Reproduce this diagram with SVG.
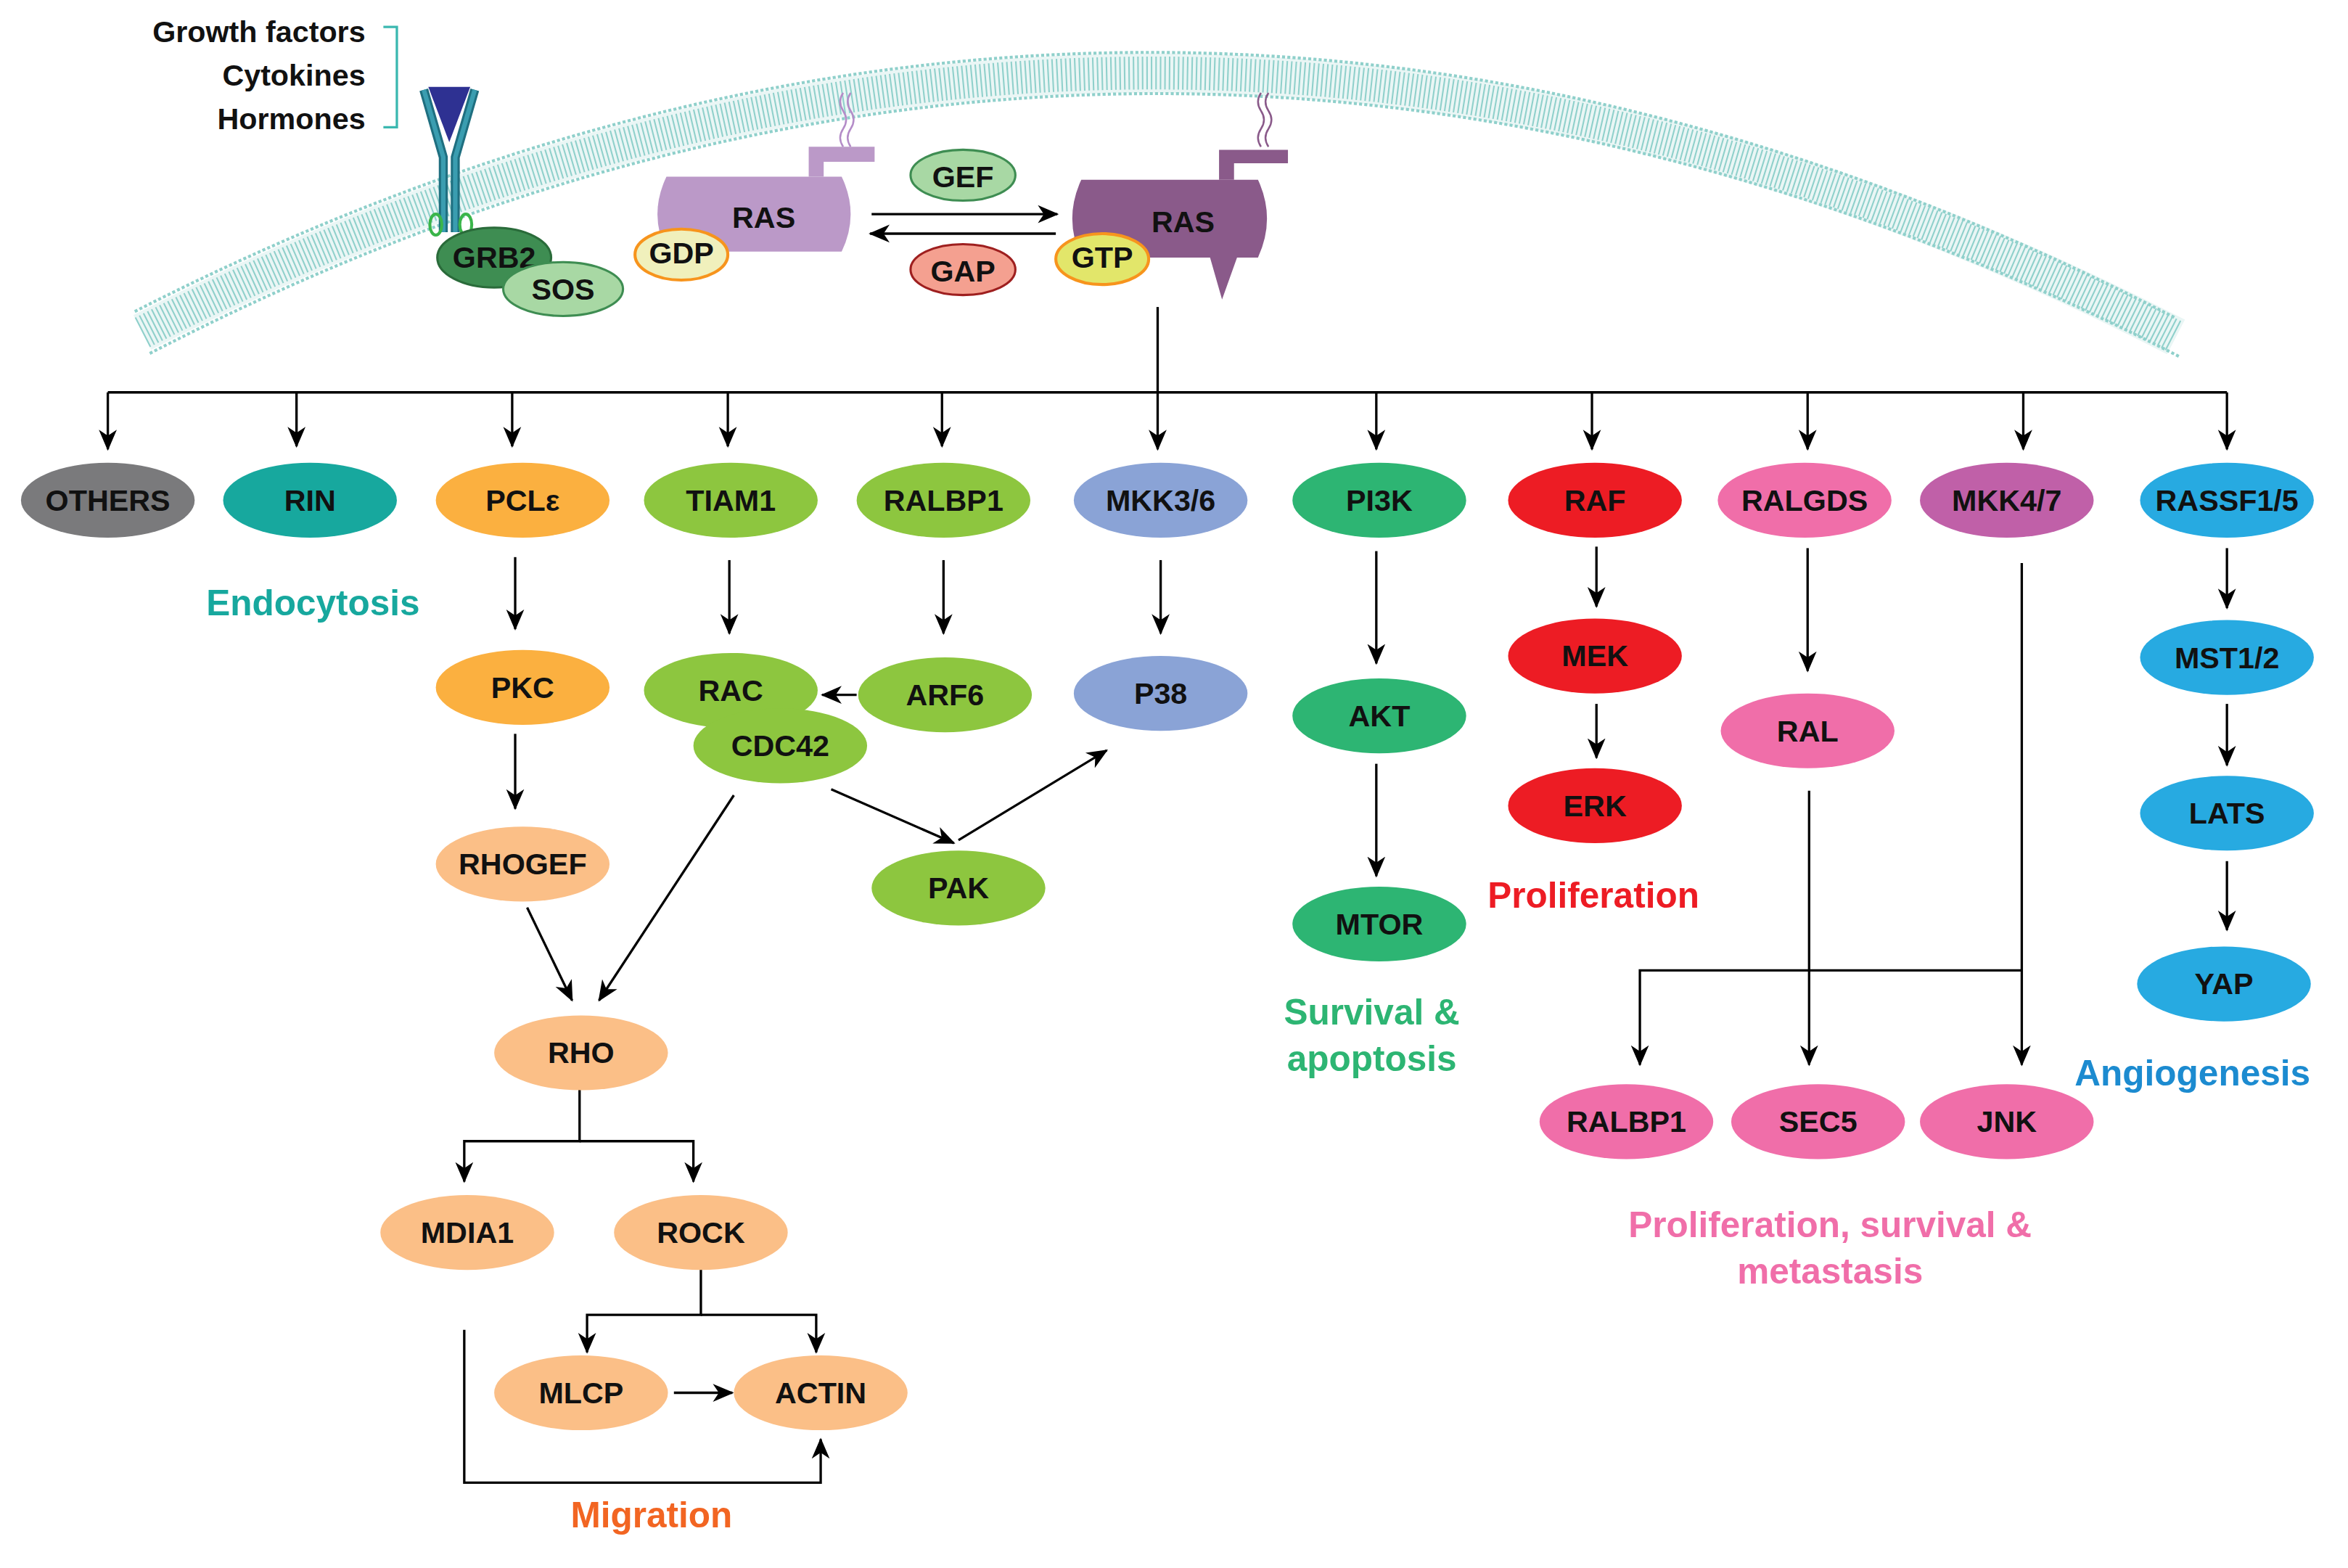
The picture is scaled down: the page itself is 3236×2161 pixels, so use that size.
<svg xmlns="http://www.w3.org/2000/svg" width="3236" height="2161" viewBox="0 0 3236 2161">
<defs>
<marker id="ah" markerUnits="userSpaceOnUse" markerWidth="14" markerHeight="14" viewBox="0 0 14 14" refX="13" refY="7" orient="auto">
<path d="M0,1 L14,7 L0,13 L4,7 Z" fill="#000"/>
</marker>
<style>
.n text{font-family:"Liberation Sans",Arial,sans-serif;font-weight:bold;font-size:20px;text-anchor:middle;fill:#111}
.c path,.c line,.c polyline{fill:none;stroke:#000;stroke-width:1.6}
.a{marker-end:url(#ah)}
.lab{font-family:"Liberation Sans",Arial,sans-serif;font-weight:bold;font-size:24px;text-anchor:middle}
</style>
</defs>
<rect width="3236" height="2161" fill="#fff"/>
<g transform="scale(2.064)">
<g id="membrane">
<path d="M95,222 Q772,-126 1453,225" fill="none" stroke="#eaf6f5" stroke-width="26"/>
<path d="M95,222 Q772,-126 1453,225" fill="none" stroke="#8fd0cb" stroke-width="22" stroke-dasharray="1 2"/>
<path d="M90,208 Q772,-140 1452,212" fill="none" stroke="#8fd0cb" stroke-width="2" stroke-dasharray="2 1.5"/>
<path d="M100,236 Q772,-112 1455,238" fill="none" stroke="#8fd0cb" stroke-width="2" stroke-dasharray="2 1.5"/>
</g>
<g id="ligands" font-family="Liberation Sans,Arial,sans-serif" font-size="20" font-weight="bold" text-anchor="end" fill="#111">
<text x="244" y="28">Growth factors</text>
<text x="244" y="57">Cytokines</text>
<text x="244" y="86">Hormones</text>
<polyline points="256,18 265,18 265,85 256,85" fill="none" stroke="#3bb8b0" stroke-width="1.6"/>
</g>
<g id="receptor">
<path d="M283,60 L296,105 L296,155 M317,60 L304,105 L304,155" fill="none" stroke="#1f6f80" stroke-width="6"/>
<path d="M283,60 L296,105 L296,155 M317,60 L304,105 L304,155" fill="none" stroke="#3a9db0" stroke-width="3"/>
<path d="M286,58 L314,58 L300,95 Z" fill="#2e3192"/>
<ellipse cx="291" cy="150" rx="4" ry="7" fill="none" stroke="#3ab54a" stroke-width="2"/>
<ellipse cx="311" cy="150" rx="4" ry="7" fill="none" stroke="#3ab54a" stroke-width="2"/>
</g>
<g id="grb2" class="n"><ellipse cx="330" cy="172" rx="38" ry="20" fill="#3e8d52" stroke="#2a6b3a" stroke-width="1.5"/><text x="330" y="179">GRB2</text></g>
<g id="sos" class="n"><ellipse cx="376" cy="193" rx="40" ry="18" fill="#a8d8a4" stroke="#3e8d52" stroke-width="1.5"/><text x="376" y="200">SOS</text></g>
<g id="ras-gdp" class="n">
<path d="M563,62 q-4,6 0,12 q4,6 0,12 q-4,6 0,12 M568,62 q-4,6 0,12 q4,6 0,12 q-4,6 0,12" fill="none" stroke="#b48cc8" stroke-width="1.2"/>
<path d="M540,118 L540,98 L584,98 L584,108 L550,108 L550,118 Z" fill="#bb99c8"/>
<path d="M445,118 L562,118 Q574,143 562,168 L445,168 Q433,143 445,118 Z" fill="#bb99c8"/>
<text x="510" y="152" font-size="24">RAS</text>
<ellipse cx="455" cy="170" rx="31" ry="17" fill="#f0f0bc" stroke="#f7941d" stroke-width="2"/>
<text x="455" y="176" font-size="17">GDP</text>
</g>
<g id="gef" class="n"><ellipse cx="643" cy="117" rx="35" ry="17" fill="#a8d8a4" stroke="#3e8d52" stroke-width="1.5"/><text x="643" y="125">GEF</text></g>
<g id="gap" class="n"><ellipse cx="643" cy="180" rx="35" ry="17" fill="#f4a090" stroke="#9e1f1f" stroke-width="1.5"/><text x="643" y="188">GAP</text></g>
<g id="ras-gtp" class="n">
<path d="M842,62 q-4,6 0,12 q4,6 0,12 q-4,6 0,12 M847,62 q-4,6 0,12 q4,6 0,12 q-4,6 0,12" fill="none" stroke="#8a5a8a" stroke-width="1.2"/>
<path d="M814,120 L814,100 L860,100 L860,109 L824,109 L824,120 Z" fill="#8a5a8a"/>
<path d="M722,120 L840,120 Q852,146 840,172 L826,172 L816,200 L808,172 L722,172 Q710,146 722,120 Z" fill="#8a5a8a"/>
<text x="790" y="155" font-size="24">RAS</text>
<ellipse cx="736" cy="173" rx="31" ry="17" fill="#e2e66a" stroke="#f7941d" stroke-width="2"/>
<text x="736" y="179" font-size="17">GTP</text>
</g>
<g id="connectors" class="c">
<line class="a" x1="582" y1="143" x2="706" y2="143"/>
<line class="a" x1="705" y1="156" x2="581" y2="156"/>
<line x1="773" y1="205" x2="773" y2="262"/>
<line x1="72" y1="262" x2="1487" y2="262"/>
<line class="a" x1="72" y1="262" x2="72" y2="300"/>
<line class="a" x1="198" y1="262" x2="198" y2="298"/>
<line class="a" x1="342" y1="262" x2="342" y2="298"/>
<line class="a" x1="486" y1="262" x2="486" y2="298"/>
<line class="a" x1="629" y1="262" x2="629" y2="298"/>
<line class="a" x1="773" y1="262" x2="773" y2="300"/>
<line class="a" x1="919" y1="262" x2="919" y2="300"/>
<line class="a" x1="1063" y1="262" x2="1063" y2="300"/>
<line class="a" x1="1207" y1="262" x2="1207" y2="300"/>
<line class="a" x1="1351" y1="262" x2="1351" y2="300"/>
<line class="a" x1="1487" y1="262" x2="1487" y2="300"/>
<line class="a" x1="344" y1="372" x2="344" y2="420"/>
<line class="a" x1="344" y1="490" x2="344" y2="540"/>
<line class="a" x1="487" y1="374" x2="487" y2="423"/>
<line class="a" x1="630" y1="374" x2="630" y2="423"/>
<line class="a" x1="775" y1="374" x2="775" y2="423"/>
<line class="a" x1="572" y1="464" x2="549" y2="464"/>
<line class="a" x1="555" y1="527" x2="637" y2="563"/>
<line class="a" x1="640" y1="561" x2="739" y2="501"/>
<line class="a" x1="352" y1="606" x2="382" y2="668"/>
<line class="a" x1="490" y1="531" x2="400" y2="668"/>
<polyline points="387,720 387,762 310,762 310,789" class="a"/>
<polyline points="387,762 463,762 463,789" class="a"/>
<polyline points="468,840 468,878 392,878 392,903" class="a"/>
<polyline points="468,878 545,878 545,903" class="a"/>
<line class="a" x1="450" y1="930" x2="489" y2="930"/>
<polyline points="310,888 310,990 548,990 548,961" class="a"/>
<line class="a" x1="919" y1="368" x2="919" y2="443"/>
<line class="a" x1="919" y1="510" x2="919" y2="585"/>
<line class="a" x1="1066" y1="365" x2="1066" y2="405"/>
<line class="a" x1="1066" y1="470" x2="1066" y2="506"/>
<line class="a" x1="1207" y1="366" x2="1207" y2="448"/>
<line class="a" x1="1208" y1="528" x2="1208" y2="711"/>
<line class="a" x1="1350" y1="376" x2="1350" y2="711"/>
<polyline points="1350,648 1095,648 1095,711" class="a"/>
<line class="a" x1="1487" y1="366" x2="1487" y2="406"/>
<line class="a" x1="1487" y1="470" x2="1487" y2="511"/>
<line class="a" x1="1487" y1="575" x2="1487" y2="621"/>
</g>
<g id="others" class="n"><ellipse cx="72" cy="334" rx="58" ry="25" fill="#7a7a7c"/><text x="72" y="341">OTHERS</text></g>
<g id="rin" class="n"><ellipse cx="207" cy="334" rx="58" ry="25" fill="#17a89e"/><text x="207" y="341">RIN</text></g>
<g id="pcle" class="n"><ellipse cx="349" cy="334" rx="58" ry="25" fill="#fbb040"/><text x="349" y="341">PCLε</text></g>
<g id="tiam1" class="n"><ellipse cx="488" cy="334" rx="58" ry="25" fill="#8dc63f"/><text x="488" y="341">TIAM1</text></g>
<g id="ralbp1a" class="n"><ellipse cx="630" cy="334" rx="58" ry="25" fill="#8dc63f"/><text x="630" y="341">RALBP1</text></g>
<g id="mkk36" class="n"><ellipse cx="775" cy="334" rx="58" ry="25" fill="#8aa3d6"/><text x="775" y="341">MKK3/6</text></g>
<g id="pi3k" class="n"><ellipse cx="921" cy="334" rx="58" ry="25" fill="#2db573"/><text x="921" y="341">PI3K</text></g>
<g id="raf" class="n"><ellipse cx="1065" cy="334" rx="58" ry="25" fill="#ed1c24"/><text x="1065" y="341">RAF</text></g>
<g id="ralgds" class="n"><ellipse cx="1205" cy="334" rx="58" ry="25" fill="#f06ea9"/><text x="1205" y="341">RALGDS</text></g>
<g id="mkk47" class="n"><ellipse cx="1340" cy="334" rx="58" ry="25" fill="#c060a8"/><text x="1340" y="341">MKK4/7</text></g>
<g id="rassf" class="n"><ellipse cx="1487" cy="334" rx="58" ry="25" fill="#27aae1"/><text x="1487" y="341">RASSF1/5</text></g>
<g id="pkc" class="n"><ellipse cx="349" cy="459" rx="58" ry="25" fill="#fbb040"/><text x="349" y="466">PKC</text></g>
<g id="rac" class="n"><ellipse cx="488" cy="461" rx="58" ry="25" fill="#8dc63f"/><text x="488" y="468">RAC</text></g>
<g id="cdc42" class="n"><ellipse cx="521" cy="498" rx="58" ry="25" fill="#8dc63f"/><text x="521" y="505">CDC42</text></g>
<g id="arf6" class="n"><ellipse cx="631" cy="464" rx="58" ry="25" fill="#8dc63f"/><text x="631" y="471">ARF6</text></g>
<g id="p38" class="n"><ellipse cx="775" cy="463" rx="58" ry="25" fill="#8aa3d6"/><text x="775" y="470">P38</text></g>
<g id="rhogef" class="n"><ellipse cx="349" cy="577" rx="58" ry="25" fill="#fbbf87"/><text x="349" y="584">RHOGEF</text></g>
<g id="pak" class="n"><ellipse cx="640" cy="593" rx="58" ry="25" fill="#8dc63f"/><text x="640" y="600">PAK</text></g>
<g id="rho" class="n"><ellipse cx="388" cy="703" rx="58" ry="25" fill="#fbbf87"/><text x="388" y="710">RHO</text></g>
<g id="mdia1" class="n"><ellipse cx="312" cy="823" rx="58" ry="25" fill="#fbbf87"/><text x="312" y="830">MDIA1</text></g>
<g id="rock" class="n"><ellipse cx="468" cy="823" rx="58" ry="25" fill="#fbbf87"/><text x="468" y="830">ROCK</text></g>
<g id="mlcp" class="n"><ellipse cx="388" cy="930" rx="58" ry="25" fill="#fbbf87"/><text x="388" y="937">MLCP</text></g>
<g id="actin" class="n"><ellipse cx="548" cy="930" rx="58" ry="25" fill="#fbbf87"/><text x="548" y="937">ACTIN</text></g>
<g id="akt" class="n"><ellipse cx="921" cy="478" rx="58" ry="25" fill="#2db573"/><text x="921" y="485">AKT</text></g>
<g id="mtor" class="n"><ellipse cx="921" cy="617" rx="58" ry="25" fill="#2db573"/><text x="921" y="624">MTOR</text></g>
<g id="mek" class="n"><ellipse cx="1065" cy="438" rx="58" ry="25" fill="#ed1c24"/><text x="1065" y="445">MEK</text></g>
<g id="erk" class="n"><ellipse cx="1065" cy="538" rx="58" ry="25" fill="#ed1c24"/><text x="1065" y="545">ERK</text></g>
<g id="ral" class="n"><ellipse cx="1207" cy="488" rx="58" ry="25" fill="#f06ea9"/><text x="1207" y="495">RAL</text></g>
<g id="ralbp1b" class="n"><ellipse cx="1086" cy="749" rx="58" ry="25" fill="#f06ea9"/><text x="1086" y="756">RALBP1</text></g>
<g id="sec5" class="n"><ellipse cx="1214" cy="749" rx="58" ry="25" fill="#f06ea9"/><text x="1214" y="756">SEC5</text></g>
<g id="jnk" class="n"><ellipse cx="1340" cy="749" rx="58" ry="25" fill="#f06ea9"/><text x="1340" y="756">JNK</text></g>
<g id="mst12" class="n"><ellipse cx="1487" cy="439" rx="58" ry="25" fill="#27aae1"/><text x="1487" y="446">MST1/2</text></g>
<g id="lats" class="n"><ellipse cx="1487" cy="543" rx="58" ry="25" fill="#27aae1"/><text x="1487" y="550">LATS</text></g>
<g id="yap" class="n"><ellipse cx="1485" cy="657" rx="58" ry="25" fill="#27aae1"/><text x="1485" y="664">YAP</text></g>
<g id="labels">
<text class="lab" x="209" y="411" fill="#17a89e">Endocytosis</text>
<text class="lab" x="435" y="1020" fill="#f26522">Migration</text>
<text class="lab" x="916" y="684" fill="#2db573">Survival &amp;</text>
<text class="lab" x="916" y="715" fill="#2db573">apoptosis</text>
<text class="lab" x="1064" y="606" fill="#ed1c24">Proliferation</text>
<text class="lab" x="1222" y="826" fill="#f06ea9">Proliferation, survival &amp;</text>
<text class="lab" x="1222" y="857" fill="#f06ea9">metastasis</text>
<text class="lab" x="1464" y="725" fill="#1c8bd0">Angiogenesis</text>
</g>
</g>
</svg>
